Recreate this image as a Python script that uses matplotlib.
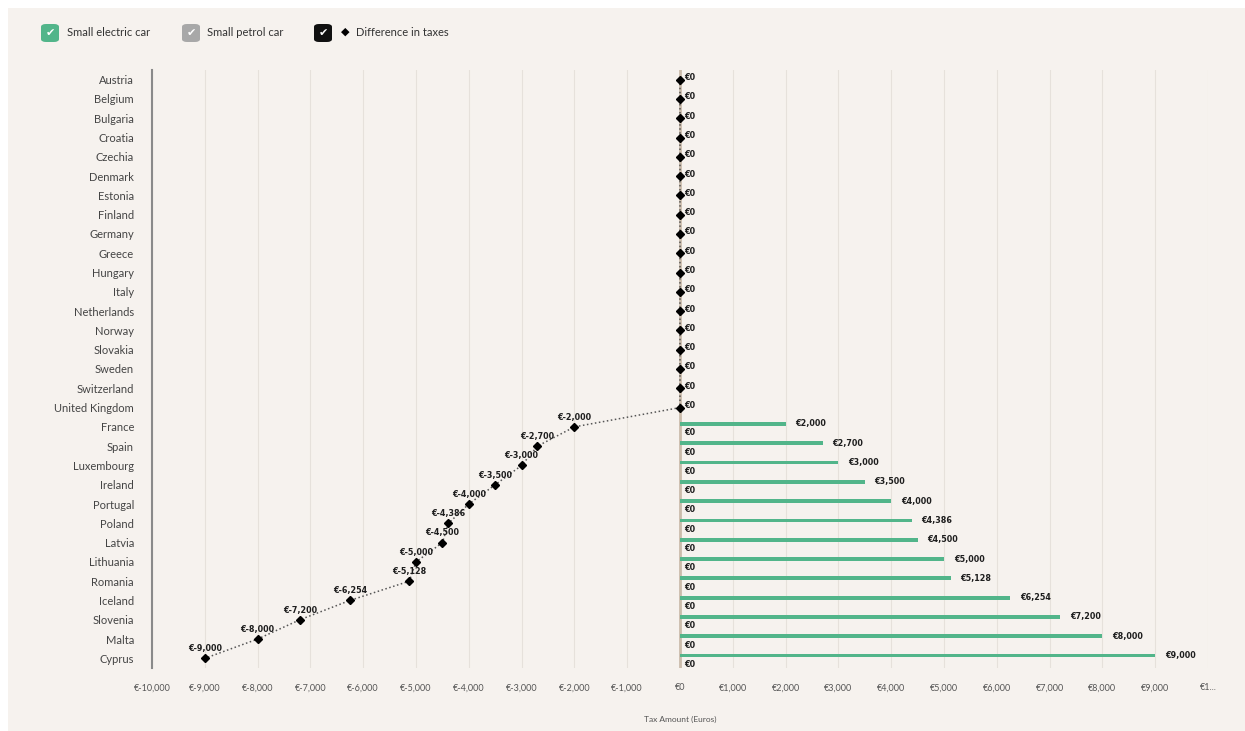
import matplotlib.pyplot as plt
from matplotlib.patches import FancyBboxPatch, Rectangle
import numpy as np

# data
countries = ["Austria", "Belgium", "Bulgaria", "Croatia", "Czechia", "Denmark", "Estonia",
             "Finland", "Germany", "Greece", "Hungary", "Italy", "Netherlands", "Norway",
             "Slovakia", "Sweden", "Switzerland", "United Kingdom", "France", "Spain",
             "Luxembourg", "Ireland", "Portugal", "Poland", "Latvia", "Lithuania", "Romania",
             "Iceland", "Slovenia", "Malta", "Cyprus"]
electric = [0] * 18 + [2000, 2700, 3000, 3500, 4000, 4386, 4500, 5000, 5128, 6254, 7200, 8000, 9000]
petrol = [0] * 31
difference = [p - e for p, e in zip(petrol, electric)]
xticks = list(range(-10000, 10001, 1000))

bg = "#f6f2ee"
green = "#52b58a"
plt.rcParams['font.family'] = ['Lato', 'DejaVu Sans']
lab = dict(fontsize=5.8, fontweight="bold", color="#1e1e1e", family="DejaVu Sans", zorder=6)

def euro(v):
    return "€{:,}".format(v)

W, H = 1245, 731
fig = plt.figure(figsize=(W / 100, H / 100), dpi=100)
fig.patch.set_facecolor("white")
fig.patches.append(Rectangle((8 / W, 0), 1, 1 - 8 / H, transform=fig.transFigure,
                             facecolor=bg, edgecolor="none", zorder=-10))

ax = fig.add_axes([152 / W, 1 - 668 / H, (1208 - 152) / W, (668 - 70) / H])
ax.set_facecolor(bg)

y = np.arange(len(countries))
ax.barh(y - 0.15, electric, height=0.2, color=green, zorder=3)
ax.barh(y + 0.2, petrol, height=0.2, color="#9e9e9e", zorder=3)

ax.plot(difference, y, linestyle=":", color="#555555", lw=1.1, zorder=4)
ax.plot(difference, y, linestyle="none", marker="D", markersize=4, color="black", zorder=5)

for i, (e, d) in enumerate(zip(electric, difference)):
    if d == 0:
        ax.annotate(euro(d), (d, i), xytext=(3, 1.5), textcoords="offset points",
                    ha="left", va="center", **lab)
    else:
        ax.annotate(euro(d), (d, i), xytext=(0, 7), textcoords="offset points",
                    ha="center", va="center", **lab)
        ax.annotate(euro(e), (e, i - 0.15), xytext=(7, 0), textcoords="offset points",
                    ha="left", va="center", **lab)
        ax.annotate(euro(petrol[i]), (petrol[i], i + 0.2), xytext=(3, -1.5), textcoords="offset points",
                    ha="left", va="center", **lab)

ax.axvline(0, color="#cbbcab", lw=2, zorder=2)
ax.set_xlim(-10000, 10000)
ax.set_ylim(len(countries) - 0.5, -0.5)
ax.set_yticks(y)
ax.set_yticklabels(countries, fontsize=8, color="#444444")
ax.set_xticks(xticks)
ax.set_xticklabels([euro(v) if v < 10000 else "€1..." for v in xticks], fontsize=6.5, color="#555555")
ax.tick_params(axis="both", length=0)
ax.tick_params(axis="x", pad=11)
ax.tick_params(axis="y", pad=13)
ax.grid(axis="x", color="#e6e1db", lw=0.8, zorder=0)
ax.set_axisbelow(True)
for s in ["top", "right", "bottom"]:
    ax.spines[s].set_visible(False)
ax.spines["left"].set_color("#8a8a8a")
ax.spines["left"].set_linewidth(1.5)
ax.set_xlabel("Tax Amount (Euros)", fontsize=6, color="#555555", labelpad=17)

# legend drawn by hand, checkbox style
def checkbox(x0, color):
    fig.patches.append(FancyBboxPatch((x0 / W, 1 - 42 / H), 18 / W, 18 / H, transform=fig.transFigure,
                                      boxstyle="round,pad=0,rounding_size=0.004",
                                      facecolor=color, edgecolor="none"))
    fig.text((x0 + 9) / W, 1 - 33 / H, "✔", color="white", fontsize=8, ha="center", va="center",
             family="DejaVu Sans")

checkbox(41, green)
fig.text(67 / W, 1 - 33 / H, "Small electric car", fontsize=8, color="#333333", va="center")
checkbox(182, "#a8a8a8")
fig.text(207 / W, 1 - 33 / H, "Small petrol car", fontsize=8, color="#333333", va="center")
checkbox(314, "#111111")
fig.text(345 / W, 1 - 32 / H, "◆", fontsize=8, color="black", ha="center", va="center", family="DejaVu Sans")
fig.text(356 / W, 1 - 33 / H, "Difference in taxes", fontsize=8, color="#333333", va="center")

fig.savefig("out.png", dpi=100, facecolor=fig.get_facecolor())
